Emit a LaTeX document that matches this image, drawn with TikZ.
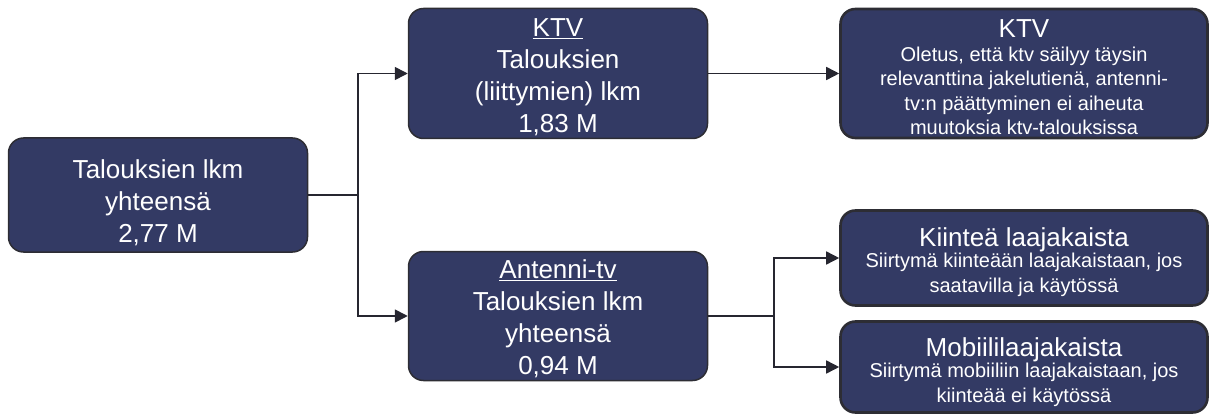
\documentclass[tikz,border=0pt]{standalone}
\usepackage{fontspec}
\setmainfont{Liberation Sans}
\usetikzlibrary{arrows.meta}
\definecolor{boxfill}{RGB}{51,58,100}
\definecolor{boxline}{RGB}{45,45,52}
\definecolor{conn}{RGB}{38,38,48}
\newcommand{\bigf}{\fontsize{26}{32}\selectfont}
\newcommand{\smallf}{\fontsize{20}{24.5}\selectfont}
\tikzset{
  box/.style={draw=boxline, line width=1.5pt, fill=boxfill, rounded corners=15pt, inner sep=0pt},
  rbox/.style={box, line width=2.6pt},
  txt/.style={text=white, align=center, inner sep=0pt},
  bigtxt/.style={txt, font=\bigf},
  smalltxt/.style={txt, font=\smallf},
  conline/.style={draw=conn, line width=1.6pt},
  conarrow/.style={conline, -{Triangle[length=13pt,width=13pt]}}
}
\begin{document}
\begin{tikzpicture}[x=1pt,y=-1pt]
\useasboundingbox (0,0) rectangle (1210,414);
% boxes
\node[box, minimum width=299pt, minimum height=114pt] (tot) at (158,195) {};
\node[box, minimum width=299pt, minimum height=130pt] (ktv) at (558,73.5) {};
\node[box, minimum width=299pt, minimum height=129pt] (ant) at (558,316) {};
\node[rbox, minimum width=367pt, minimum height=129pt] (ktvr) at (1024,73.5) {};
\node[rbox, minimum width=367pt, minimum height=95pt] (kiin) at (1024,258) {};
\node[rbox, minimum width=367pt, minimum height=91pt] (mob) at (1024,367) {};
% texts
\node[bigtxt, yshift=-8pt] (tott) at (tot.center) {Talouksien lkm\\yhteensä\\2,77 M};
\node[bigtxt, yshift=-4pt] (ktvt) at (ktv.center) {\underline{KTV}\\Talouksien\\(liittymien) lkm\\1,83 M};
\node[bigtxt, yshift=-3pt] (antt) at (ant.center) {\underline{Antenni-tv}\\Talouksien lkm\\yhteensä\\0,94 M};
\node[smalltxt, yshift=-4pt] (ktvrt) at (ktvr.center)
  {\bigf KTV\\[-1pt]
   \smallf Oletus, että ktv säilyy täysin\\\smallf relevanttina jakelutienä, antenni-\\\smallf tv:n päättyminen ei aiheuta\\\smallf muutoksia ktv-talouksissa};
\node[smalltxt, yshift=-4pt] (kiint) at (kiin.center)
  {\bigf Kiinteä laajakaista\\[-3pt]
   \smallf Siirtymä kiinteään laajakaistaan, jos\\\smallf saatavilla ja käytössä};
\node[smalltxt, yshift=-5pt] (mobt) at (mob.center)
  {\bigf Mobiililaajakaista\\[-3pt]
   \smallf Siirtymä mobiiliin laajakaistaan, jos\\\smallf kiinteää ei käytössä};
% connectors
\coordinate (j1) at (358,195);
\coordinate (j2) at (774,316);
\draw[conline] (tot.east) -- (j1);
\draw[conarrow] (j1) |- (ktv.west);
\draw[conarrow] (j1) |- (ant.west);
\draw[conarrow] (ktv.east) -- (ktvr.west);
\draw[conline] (ant.east) -- (j2);
\draw[conarrow] (j2) |- (kiin.west);
\draw[conarrow] (j2) |- (mob.west);
\end{tikzpicture}
\end{document}
